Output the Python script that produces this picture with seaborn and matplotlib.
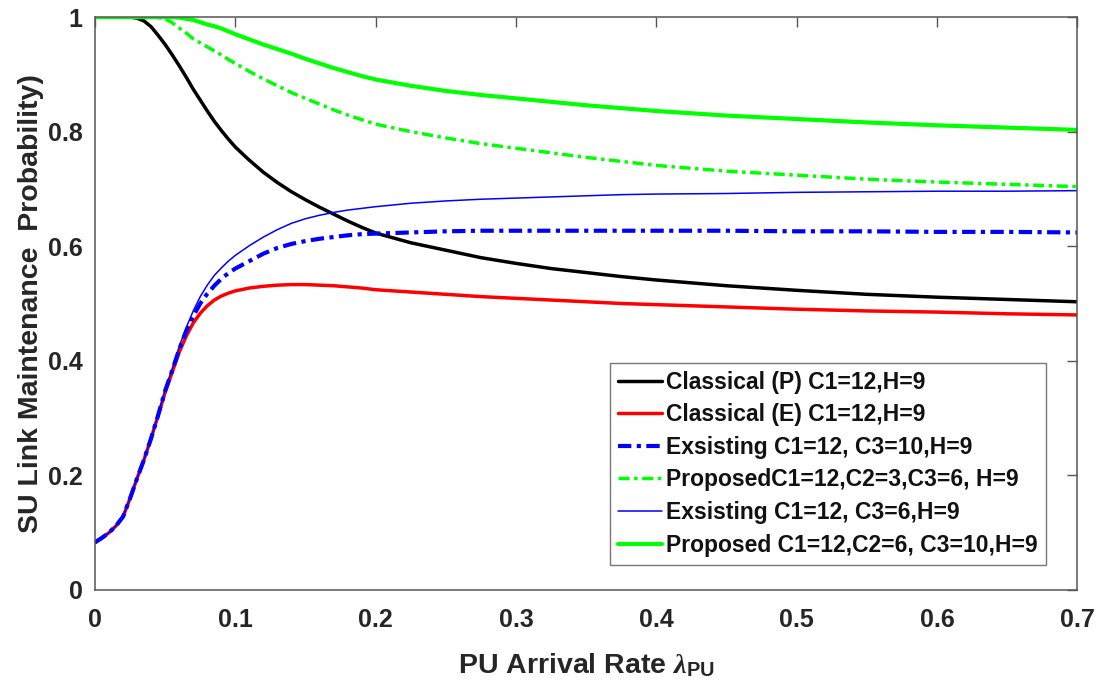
import numpy as np
import pandas as pd
import matplotlib
matplotlib.use("Agg")
import matplotlib.pyplot as plt
import seaborn as sns

# x axis: PU arrival rate
lam = [0, 0.005, 0.01, 0.015, 0.02, 0.025, 0.03, 0.035, 0.04, 0.045, 0.05,
       0.055, 0.06, 0.065, 0.07, 0.075, 0.08, 0.085, 0.09, 0.095, 0.1,
       0.11, 0.12, 0.13, 0.14, 0.15, 0.16, 0.17, 0.18, 0.19, 0.2,
       0.225, 0.25, 0.275, 0.3, 0.325, 0.35, 0.375, 0.4,
       0.45, 0.5, 0.55, 0.6, 0.65, 0.7]

classical_p = [1, 1, 1, 1, 1, 1, 0.998, 0.993, 0.983, 0.968, 0.952,
               0.934, 0.915, 0.895, 0.874, 0.855, 0.836, 0.818, 0.802, 0.787, 0.773,
               0.750, 0.729, 0.711, 0.695, 0.681, 0.668, 0.656, 0.644, 0.633, 0.623,
               0.606, 0.593, 0.580, 0.570, 0.561, 0.554, 0.547, 0.541,
               0.531, 0.523, 0.516, 0.511, 0.507, 0.503]
classical_e = [0.083, 0.091, 0.100, 0.112, 0.128, 0.160, 0.195, 0.228, 0.265, 0.305, 0.345,
               0.380, 0.415, 0.443, 0.466, 0.483, 0.496, 0.506, 0.513, 0.518, 0.522,
               0.527, 0.530, 0.532, 0.533, 0.533, 0.532, 0.531, 0.529, 0.527, 0.524,
               0.520, 0.516, 0.512, 0.509, 0.506, 0.503, 0.500, 0.498,
               0.494, 0.490, 0.487, 0.485, 0.482, 0.480]
existing_c3_10 = [0.083, 0.091, 0.100, 0.112, 0.128, 0.160, 0.195, 0.228, 0.265, 0.305, 0.348,
                  0.383, 0.420, 0.452, 0.478, 0.500, 0.517, 0.531, 0.543, 0.553, 0.561,
                  0.574, 0.587, 0.597, 0.604, 0.609, 0.613, 0.616, 0.619, 0.621, 0.622,
                  0.624, 0.626, 0.627, 0.627, 0.627, 0.627, 0.627, 0.627,
                  0.627, 0.626, 0.626, 0.625, 0.625, 0.624]
proposed_c2_3 = [1, 1, 1, 1, 1, 1, 1, 1, 1, 0.999, 0.997,
                 0.990, 0.981, 0.972, 0.962, 0.955, 0.948, 0.941, 0.934, 0.926, 0.919,
                 0.905, 0.892, 0.880, 0.868, 0.858, 0.848, 0.838, 0.829, 0.821, 0.813,
                 0.800, 0.789, 0.779, 0.771, 0.763, 0.755, 0.748, 0.741,
                 0.731, 0.724, 0.717, 0.712, 0.708, 0.704]
existing_c3_6 = [0.083, 0.091, 0.100, 0.112, 0.128, 0.160, 0.195, 0.228, 0.265, 0.305, 0.350,
                 0.386, 0.425, 0.458, 0.487, 0.512, 0.532, 0.549, 0.562, 0.574, 0.584,
                 0.601, 0.616, 0.629, 0.640, 0.648, 0.654, 0.659, 0.663, 0.666, 0.669,
                 0.675, 0.679, 0.682, 0.684, 0.686, 0.688, 0.690, 0.691,
                 0.692, 0.694, 0.695, 0.696, 0.696, 0.697]
proposed_c2_6 = [1, 1, 1, 1, 1, 1, 1, 1, 1, 1, 1,
                 1, 0.999, 0.997, 0.995, 0.991, 0.987, 0.984, 0.980, 0.975, 0.970,
                 0.961, 0.952, 0.944, 0.936, 0.927, 0.919, 0.911, 0.904, 0.897, 0.891,
                 0.880, 0.871, 0.864, 0.858, 0.852, 0.846, 0.841, 0.836,
                 0.828, 0.822, 0.816, 0.811, 0.807, 0.803]

labels = ["Classical (P) C1=12,H=9",
          "Classical (E) C1=12,H=9",
          "Exsisting C1=12, C3=10,H=9",
          "ProposedC1=12,C2=3,C3=6, H=9",
          "Exsisting C1=12, C3=6,H=9",
          "Proposed C1=12,C2=6, C3=10,H=9"]

xticks = [0, 0.1, 0.2, 0.3, 0.4, 0.5, 0.6, 0.7]
xtick_labels = ["0", "0.1", "0.2", "0.3", "0.4", "0.5", "0.6", "0.7"]
yticks = [0, 0.2, 0.4, 0.6, 0.8, 1]
ytick_labels = ["0", "0.2", "0.4", "0.6", "0.8", "1"]

sns.set_style("white")
plt.rcParams['font.family'] = ['Liberation Sans', 'DejaVu Sans']
plt.rcParams['font.weight'] = 'bold'
plt.rcParams['mathtext.fontset'] = 'custom'
plt.rcParams['mathtext.rm'] = 'Liberation Sans:bold'
plt.rcParams['mathtext.bf'] = 'Liberation Sans:bold'
plt.rcParams['mathtext.it'] = 'Liberation Serif:italic'

txt = '#262626'
fig = plt.figure(figsize=(11.1, 6.82), dpi=100)
ax = fig.add_axes([0.0856, 0.135, 0.885, 0.84])

series = [classical_p, classical_e, existing_c3_10, proposed_c2_3, existing_c3_6, proposed_c2_6]
colors = ["#000000", "#ff0000", "#0000ff", "#00ff00", "#0000ff", "#00ff00"]
widths = [2.5, 2.5, 3.0, 2.5, 1.1, 3.0]
dashed = [False, False, True, True, False, False]

for ys, lab, c, w, d in zip(series, labels, colors, widths, dashed):
    line_df = pd.DataFrame({"x": lam, "y": ys})
    sns.lineplot(data=line_df, x="x", y="y", ax=ax, color=c, linewidth=w, label=lab)
    if d:
        ax.lines[-1].set_dashes([3.2, 1.3, 1.0, 1.3])

ax.set_xlim(0, 0.7)
ax.set_ylim(0, 1)
ax.set_xticks(xticks)
ax.set_xticklabels(xtick_labels)
ax.set_yticks(yticks)
ax.set_yticklabels(ytick_labels)
ax.tick_params(direction='in', top=True, right=True, length=7, width=1,
               color='#555555', labelsize=18, labelcolor=txt)
ax.tick_params(axis='x', pad=13)
ax.tick_params(axis='y', pad=9)
for sp in ax.spines.values():
    sp.set_color('#555555')
    sp.set_linewidth(1.1)

ax.set_xlabel(r'PU Arrival Rate $\mathit{\lambda}_{\mathrm{PU}}$', fontsize=20.5,
              fontweight='bold', color=txt, labelpad=14)
ax.set_ylabel('SU Link Maintenance  Probability)', fontsize=20.5,
              fontweight='bold', color=txt, labelpad=3)

leg = ax.legend(loc='lower right', bbox_to_anchor=(0.968, 0.044), fontsize=16.5,
                frameon=True, fancybox=False, edgecolor='#555555',
                handlelength=1.9, handletextpad=0.2, labelspacing=0.42,
                borderpad=0.35, borderaxespad=0)
leg.get_frame().set_linewidth(1.0)
for t in leg.get_texts():
    t.set_fontweight('bold')
    t.set_color('#111111')

fig.savefig("out.png", dpi=100)
